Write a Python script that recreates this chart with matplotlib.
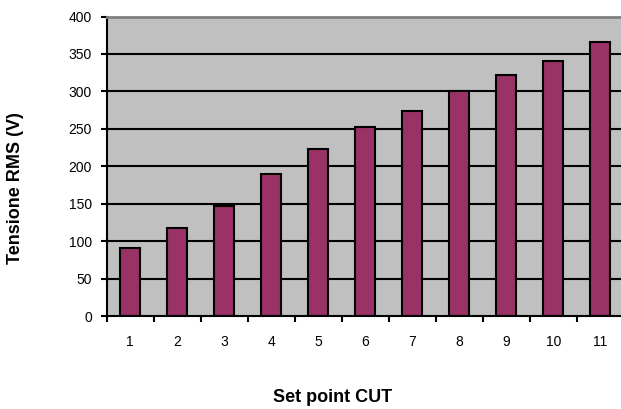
import matplotlib
matplotlib.use("Agg")
import matplotlib.pyplot as plt
import numpy as np

plt.rcParams['font.family'] = ['Liberation Sans', 'DejaVu Sans']

categories = ["1", "2", "3", "4", "5", "6", "7", "8", "9", "10", "11"]
tensione = [91, 118, 147, 189, 223, 252, 274, 300, 322, 340, 366]
y_ticks = [0, 50, 100, 150, 200, 250, 300, 350, 400]

fig = plt.figure(figsize=(6.21, 4.09), dpi=100)
W, H = 621, 409
x0, x1 = 106.7, 623.7
y_top, y_bot = 16.5, 316
ax = fig.add_axes([x0 / W, 1 - y_bot / H, (x1 - x0) / W, (y_bot - y_top) / H])
ax.set_facecolor('#C0C0C0')

x = np.arange(len(categories))
ax.bar(x, tensione, width=0.42, color='#993366', edgecolor='black', linewidth=1.5, zorder=3)

ax.set_xlim(-0.5, len(categories) - 0.5)
ax.set_ylim(0, 400)
ax.set_yticks(y_ticks)
ax.set_yticklabels([str(v) for v in y_ticks], fontsize=10)
ax.set_xticks(x)
ax.set_xticklabels(categories, fontsize=10)
ax.set_xticks(np.arange(len(categories) + 1) - 0.5, minor=True)
ax.tick_params(axis='x', which='major', length=0, pad=14)
ax.tick_params(axis='x', which='minor', length=4, width=1.5, direction='out')
ax.tick_params(axis='y', length=4.5, width=1.5, direction='out', pad=6)

for v in y_ticks[1:-1]:
    ax.axhline(v, color='black', linewidth=1.5, zorder=2)

ax.spines['right'].set_visible(False)
ax.spines['top'].set_color('#808080')
ax.spines['top'].set_linewidth(2)
ax.spines['left'].set_color('black')
ax.spines['left'].set_linewidth(1.5)
ax.spines['bottom'].set_color('black')
ax.spines['bottom'].set_linewidth(1.5)
ax.spines['bottom'].set_zorder(4)

fig.text(16 / W, 1 - 188 / H, "Tensione RMS (V)", rotation=90, fontsize=13,
         fontweight='bold', ha='center', va='center')
fig.text(333 / W, 1 - 398 / H, "Set point CUT", fontsize=13,
         fontweight='bold', ha='center', va='center')

fig.savefig("out.png", dpi=100)
